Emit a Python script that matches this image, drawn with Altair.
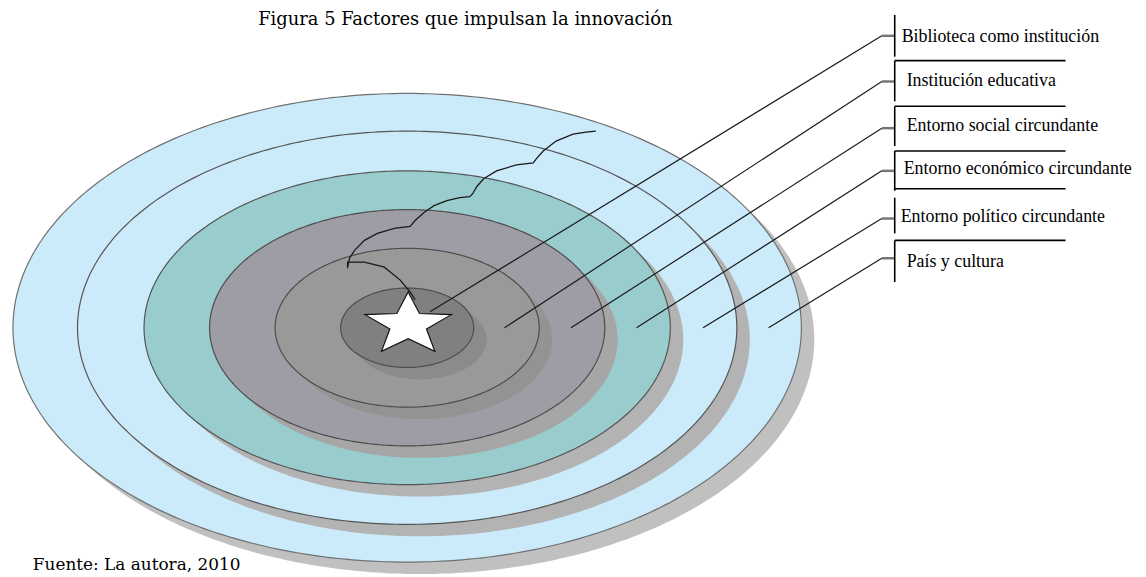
import altair as alt
import numpy as np
import pandas as pd

# ---------------- texts ----------------
title_text = "Figura 5 Factores que impulsan la innovación"
source_text = "Fuente: La autora, 2010"
labels = [
    "Biblioteca como institución",
    "Institución educativa",
    "Entorno social circundante",
    "Entorno económico circundante",
    "Entorno político circundante",
    "País y cultura",
]

# ---------------- rings (outermost -> innermost) ----------------
ring_cx = 410
ring_cy = 328
ring_rx = [397, 332, 265, 199, 133, 67]
ring_ry = [236, 198, 158, 119, 80, 40]
ring_fill = ["#CCEBFA", "#CCEBFA", "#99CCCC", "#9E9DA5", "#999999", "#808080"]
ring_shadow = ["#C0C0C0", "#B3B3B3", "#B3B3B3", "#A6A6A6", "#939393", "#8B8B8B"]
ring_stroke = ["#707070", "#555555", "#555555", "#4D4D4D", "#4D4D4D", "#4D4D4D"]
shadow_dx = 13
shadow_dy = 12

# ---------------- star ----------------
star_x = [411]
star_y = [325]
star_outer = 33
star_inner = 14
star_stretch = 1.386

# ---------------- leader lines ----------------
leader_x0 = [433, 508, 575, 641, 708, 774]
leader_y0 = [312, 328, 328, 328, 328, 328]
leader_x1 = [888, 888, 888, 888, 888, 888]
leader_y1 = [34, 80, 127, 170, 218, 258]
bracket_x = [901, 901, 901, 901, 901, 901]
bracket_top = [13, 59, 105, 150, 197, 240]
bracket_bottom = [55, 100, 145, 190, 233, 282]
sep_y = [59, 105, 150, 188, 240]
sep_x0 = [901, 901, 901, 901, 901]
sep_x1 = [1073, 1073, 1073, 1073, 1073]
label_x = [908, 913, 913, 910, 907, 913]
label_y = [35, 80, 125, 168, 216, 262]

# ---------------- scalloped path ----------------
wave_x = [418, 413, 403, 387, 367, 350, 350, 350, 352, 357, 367, 380, 397, 413,
          418, 427, 437, 450, 463, 473, 476, 480, 487, 500, 520, 537,
          540, 547, 560, 577, 590, 600]
wave_y = [300, 292, 280, 267, 262, 262, 268, 267, 258, 250, 240, 233, 228, 226,
          220, 212, 205, 200, 197, 196, 193, 186, 178, 170, 164, 162,
          158, 150, 140, 133, 131, 130]

# ---------------- scales ----------------
XS = alt.Scale(domain=[8, 1146], nice=False, zero=False)
YS = alt.Scale(domain=[8, 577], nice=False, zero=False, reverse=True)


def X(f):
    return alt.X(f, type="quantitative", scale=XS, axis=None)


def Y(f):
    return alt.Y(f, type="quantitative", scale=YS, axis=None)


def ellipse_fill_df(cx, cy, rx, ry, n=240):
    t = np.linspace(0, np.pi, n)
    return pd.DataFrame({"x": cx + rx * np.cos(t),
                         "y": cy - ry * np.sin(t),
                         "y2": cy + ry * np.sin(t)})


def ellipse_line_df(cx, cy, rx, ry, n=360):
    t = np.linspace(0, 2 * np.pi, n + 1)
    return pd.DataFrame({"x": cx + rx * np.cos(t),
                         "y": cy + ry * np.sin(t),
                         "o": np.arange(n + 1)})


layers = []
for rx, ry, fill, sh, st in zip(ring_rx, ring_ry, ring_fill, ring_shadow, ring_stroke):
    sdf = ellipse_fill_df(ring_cx + shadow_dx, ring_cy + shadow_dy, rx, ry)
    layers.append(alt.Chart(sdf).mark_area(color=sh, opacity=1)
                  .encode(x=X("x"), y=Y("y"), y2="y2"))
    fdf = ellipse_fill_df(ring_cx, ring_cy, rx, ry)
    layers.append(alt.Chart(fdf).mark_area(color=fill, opacity=1)
                  .encode(x=X("x"), y=Y("y"), y2="y2"))
    ldf = ellipse_line_df(ring_cx, ring_cy, rx, ry)
    layers.append(alt.Chart(ldf).mark_line(color=st, strokeWidth=1.2)
                  .encode(x=X("x"), y=Y("y"), order="o:Q"))

# star as a custom symbol path (unit square coordinates)
S = 45.0
pts = []
for i in range(10):
    ang = np.pi / 2 + i * np.pi / 5
    r = star_outer if i % 2 == 0 else star_inner
    dx = r * np.cos(ang) * star_stretch
    dy = -r * np.sin(ang)
    pts.append(f"{dx / S:.4f},{dy / S:.4f}")
star_path = "M" + "L".join(pts) + "Z"
star_df = pd.DataFrame({"x": star_x, "y": star_y})
layers.append(alt.Chart(star_df).mark_point(shape=star_path, filled=True, fill="white",
                                             stroke="#111111", strokeWidth=1.2,
                                             size=(2 * S) ** 2, opacity=1)
              .encode(x=X("x"), y=Y("y")))

# scalloped path
wave_df = pd.DataFrame({"x": wave_x, "y": wave_y, "o": range(len(wave_x))})
layers.append(alt.Chart(wave_df).mark_line(color="#1A1A1A", strokeWidth=1.3)
              .encode(x=X("x"), y=Y("y"), order="o:Q"))

# leader lines
lead_df = pd.DataFrame({"x0": leader_x0, "y0": leader_y0, "x1": leader_x1, "y1": leader_y1})
layers.append(alt.Chart(lead_df).mark_rule(color="#1A1A1A", strokeWidth=1.2)
              .encode(x=X("x0"), y=Y("y0"), x2="x1", y2="y1"))

# short gray connectors
conn_df = pd.DataFrame({"x0": leader_x1, "x1": bracket_x, "y": leader_y1})
layers.append(alt.Chart(conn_df).mark_rule(color="#777777", strokeWidth=2.5)
              .encode(x=X("x0"), x2="x1", y=Y("y")))

# vertical brackets
br_df = pd.DataFrame({"x": bracket_x, "y0": bracket_top, "y1": bracket_bottom})
layers.append(alt.Chart(br_df).mark_rule(color="#000000", strokeWidth=1.6)
              .encode(x=X("x"), y=Y("y0"), y2="y1"))

# horizontal separators
sep_df = pd.DataFrame({"x0": sep_x0, "x1": sep_x1, "y": sep_y})
layers.append(alt.Chart(sep_df).mark_rule(color="#000000", strokeWidth=1.6)
              .encode(x=X("x0"), x2="x1", y=Y("y")))

# labels
lab_df = pd.DataFrame({"x": label_x, "y": label_y, "t": labels})
layers.append(alt.Chart(lab_df).mark_text(align="left", baseline="middle",
                                           font="Liberation Serif", fontSize=18,
                                           color="#000000")
              .encode(x=X("x"), y=Y("y"), text="t:N"))

# title and source
title_df = pd.DataFrame({"x": [260], "y": [23], "t": [title_text]})
source_df = pd.DataFrame({"x": [33], "y": [572], "t": [source_text]})
layers.append(alt.Chart(title_df).mark_text(align="left", baseline="alphabetic",
                                            font="DejaVu Serif", fontSize=18,
                                            color="#000000")
              .encode(x=X("x"), y=Y("y"), text="t:N"))
layers.append(alt.Chart(source_df).mark_text(align="left", baseline="alphabetic",
                                             font="DejaVu Serif", fontSize=17,
                                             color="#000000")
              .encode(x=X("x"), y=Y("y"), text="t:N"))

chart = (alt.layer(*layers)
         .properties(width=1138, height=569, padding=0, autosize="none",
                     background="white")
         .configure_view(stroke=None))

chart.save("out.html", embed_options={"renderer": "svg", "actions": False})
